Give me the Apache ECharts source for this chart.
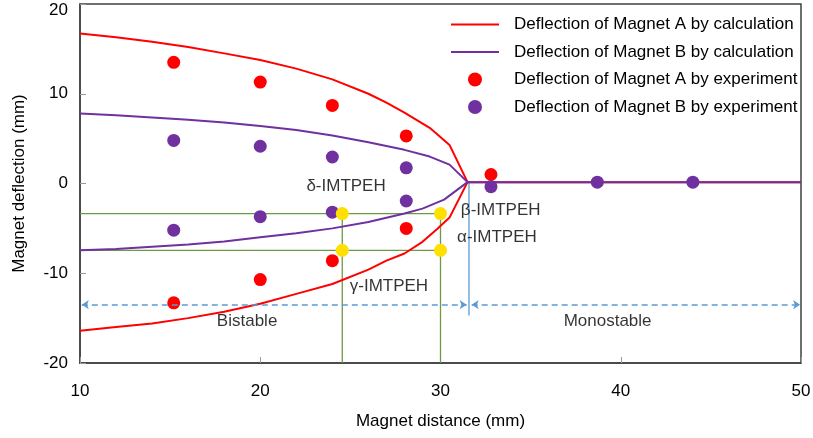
<!DOCTYPE html>
<html>
<head>
<meta charset="utf-8">
<script src="https://cdn.jsdelivr.net/npm/echarts@6/dist/echarts.min.js"></script>
<style>
html, body { margin: 0; padding: 0; background: #fff; }
#chart { width: 813px; height: 438px; }
</style>
</head>
<body>
<div id="chart"></div>
<script>
// Calculated deflection (mm) vs magnet distance (mm): upper and lower branches
const calcA_upper = [[10,16.7],[12,16.3],[14,15.8],[16,15.2],[18,14.5],[20,13.75],[22,12.8],[24,11.6],[26,10.0],[27,9.0],[28,7.9],[29.4,6.2],[30.5,4.3],[31.5,0.15],[50,0.15]];
const calcA_lower = [[10,-16.4],[12,-16.0],[14,-15.6],[16,-15.0],[18,-14.3],[20,-13.4],[22,-12.3],[24,-11.2],[26,-9.6],[27,-8.6],[28,-7.8],[29,-6.5],[29.8,-5.1],[30.5,-3.8],[31.5,0.15]];
const calcB_upper = [[10,7.8],[12,7.6],[14,7.35],[16,7.1],[18,6.8],[20,6.4],[22,5.95],[24,5.35],[26,4.6],[28,3.75],[29.4,3.0],[30.5,2.1],[31.5,0.15],[50,0.15]];
const calcB_lower = [[10,-7.45],[12,-7.3],[14,-7.05],[16,-6.8],[18,-6.45],[20,-6.0],[22,-5.55],[24,-5.0],[26,-4.3],[28,-3.35],[29,-2.8],[30.2,-1.8],[31.5,0.15]];

// Measured deflections
const expA = [[15.2,13.5],[20,11.3],[24,8.7],[28.1,5.3],[32.8,1.0],[15.2,-13.3],[20,-10.7],[24,-8.6],[28.1,-5.0]];
const expB = [[15.2,4.8],[20,4.15],[24,2.95],[28.1,1.75],[32.8,-0.35],[38.7,0.15],[44,0.15],[15.2,-5.2],[20,-3.7],[24,-3.2],[28.1,-1.95]];

// IMTPEH operating points and their guide lines
const operatingPoints = [[24.55,-3.35],[24.55,-7.45],[30,-3.35],[30,-7.45]];
const guideH1 = [[10,-3.35],[30,-3.35]];
const guideH2 = [[10,-7.45],[30,-7.45]];
const guideV1 = [[24.55,-3.35],[24.55,-20]];
const guideV2 = [[30,-3.35],[30,-20]];

// Bistable / monostable boundary
const boundary = [[31.58,0.15],[31.58,-14.7]];
const bistableSpan = [10.1, 31.45];
const monostableSpan = [31.73, 49.95];
const spanLevel = -13.5;

// Region and configuration labels (data coordinates)
const annotations = [
  { text: 'δ-IMTPEH', at: [24.76, -0.35] },
  { text: 'β-IMTPEH', at: [33.34, -2.97] },
  { text: 'α-IMTPEH', at: [33.13, -6.0] },
  { text: 'γ-IMTPEH', at: [27.14, -11.4] },
  { text: 'Bistable', at: [19.27, -15.4] },
  { text: 'Monostable', at: [39.27, -15.4] }
];

const xTicks = { min: 10, max: 50, interval: 10 };
const yTicks = { min: -20, max: 20, interval: 10 };

const NAME_A_CALC = 'Deflection of Magnet A by calculation';
const NAME_B_CALC = 'Deflection of Magnet B by calculation';
const NAME_A_EXP = 'Deflection of Magnet A by experiment';
const NAME_B_EXP = 'Deflection of Magnet B by experiment';

const FONT = "'Liberation Sans', Arial, sans-serif";
const FS = 17;
const RED = '#FF0000';
const PURPLE = '#7030A0';
const GREEN = '#6E9A44';
const BLUE = '#5B9BD5';
const YELLOW = '#FFE000';

function guide(data, color) {
  return {
    type: 'line', data, silent: true, symbol: 'none', z: 1,
    lineStyle: { color, width: 1.3 }, animation: false
  };
}

const chart = echarts.init(document.getElementById('chart'), null, { renderer: 'canvas' });

chart.setOption({
  animation: false,
  textStyle: { fontFamily: FONT },
  grid: {
    left: 80, right: 12, top: 4, bottom: 75,
    containLabel: false, outerBoundsMode: 'none',
    show: true, borderColor: '#404040', borderWidth: 1.5, backgroundColor: 'transparent'
  },
  legend: {
    orient: 'vertical',
    left: 450, top: 16,
    padding: 0,
    itemWidth: 48, itemHeight: 14, itemGap: 10.5,
    textStyle: { fontSize: FS, color: '#000', fontFamily: FONT, padding: [0, 0, 0, 10] },
    data: [
      { name: NAME_A_CALC, itemStyle: { opacity: 0 } },
      { name: NAME_B_CALC, itemStyle: { opacity: 0 } },
      NAME_A_EXP,
      NAME_B_EXP
    ]
  },
  xAxis: {
    type: 'value', min: xTicks.min, max: xTicks.max, interval: xTicks.interval,
    name: 'Magnet distance (mm)', nameLocation: 'middle', nameGap: 50,
    nameTextStyle: { fontSize: FS, color: '#000', fontFamily: FONT },
    axisLine: { show: true, onZero: false, lineStyle: { color: '#404040', width: 1.5 } },
    axisTick: { show: true, inside: true, length: 6, lineStyle: { color: '#999' } },
    axisLabel: { fontSize: FS, color: '#000', margin: 20, fontFamily: FONT },
    splitLine: { show: false }
  },
  yAxis: {
    type: 'value', min: yTicks.min, max: yTicks.max, interval: yTicks.interval,
    name: 'Magnet deflection (mm)', nameLocation: 'middle', nameGap: 52, nameRotate: 90,
    nameTextStyle: { fontSize: FS, color: '#000', fontFamily: FONT },
    axisLine: { show: true, onZero: false, lineStyle: { color: '#404040', width: 1.5 } },
    axisTick: { show: true, inside: true, length: 6, lineStyle: { color: '#999' } },
    axisLabel: {
      fontSize: FS, color: '#000', margin: 12, fontFamily: FONT,
      formatter: v => (v === yTicks.max ? '{top|' + v + '}' : String(v)),
      rich: { top: { fontSize: FS, color: '#000', fontFamily: FONT, padding: [13, 0, 0, 0] } }
    },
    splitLine: { show: false }
  },
  series: [
    guide(guideH1, GREEN),
    guide(guideH2, GREEN),
    guide(guideV1, GREEN),
    guide(guideV2, GREEN),
    Object.assign(guide(boundary, BLUE), {
      markLine: {
        silent: true, symbol: ['arrow', 'arrow'], symbolSize: 7, animation: false,
        label: { show: false },
        lineStyle: { color: BLUE, width: 1.5, type: [6, 4] },
        data: [
          [{ coord: [bistableSpan[0], spanLevel] }, { coord: [bistableSpan[1], spanLevel] }],
          [{ coord: [monostableSpan[0], spanLevel] }, { coord: [monostableSpan[1], spanLevel] }]
        ]
      }
    }),
    { name: NAME_A_CALC, type: 'line', data: calcA_upper, symbol: 'none', z: 3, lineStyle: { color: RED, width: 2 }, itemStyle: { color: RED } },
    { name: NAME_A_CALC, type: 'line', data: calcA_lower, symbol: 'none', z: 3, lineStyle: { color: RED, width: 2 }, itemStyle: { color: RED } },
    { name: NAME_B_CALC, type: 'line', data: calcB_upper, symbol: 'none', z: 3, lineStyle: { color: PURPLE, width: 2 }, itemStyle: { color: PURPLE } },
    { name: NAME_B_CALC, type: 'line', data: calcB_lower, symbol: 'none', z: 3, lineStyle: { color: PURPLE, width: 2 }, itemStyle: { color: PURPLE } },
    { name: NAME_A_EXP, type: 'scatter', data: expA, symbolSize: 13, z: 4, itemStyle: { color: RED, opacity: 1 } },
    { name: NAME_B_EXP, type: 'scatter', data: expB, symbolSize: 13, z: 4, itemStyle: { color: PURPLE, opacity: 1 } },
    { type: 'scatter', data: operatingPoints, symbolSize: 13, z: 5, silent: true, itemStyle: { color: YELLOW, opacity: 1 } },
    {
      type: 'scatter', silent: true, z: 6, symbolSize: 1,
      itemStyle: { color: 'rgba(0,0,0,0)' },
      data: annotations.map(a => ({ value: a.at, name: a.text })),
      label: {
        show: true, position: 'inside', formatter: p => p.name,
        fontSize: FS, color: '#000', fontFamily: FONT
      }
    }
  ]
});
</script>
</body>
</html>
